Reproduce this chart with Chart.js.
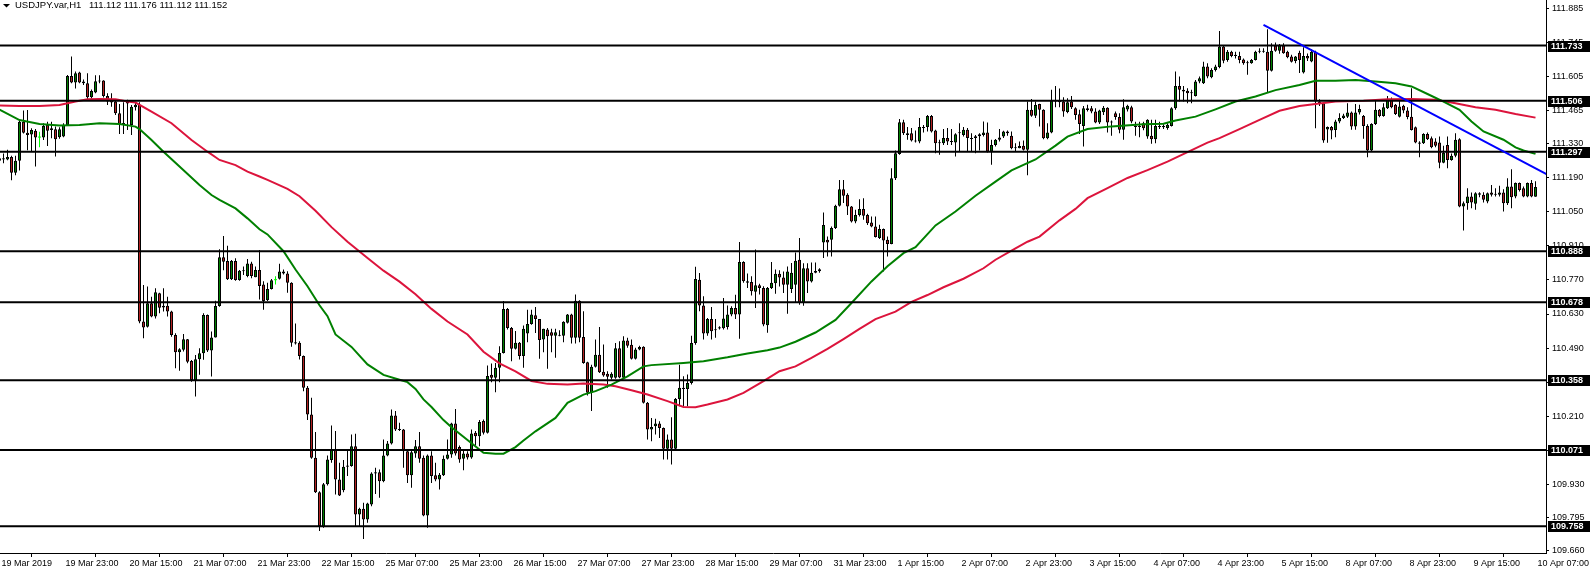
<!DOCTYPE html>
<html><head><meta charset="utf-8">
<script src="https://cdn.jsdelivr.net/npm/chart.js@4.4.1/dist/chart.umd.min.js"></script>
<style>html,body{margin:0;padding:0;background:#fff;overflow:hidden}canvas{display:block}</style>
</head><body>
<canvas id="c" width="1590" height="570"></canvas>
<script>
const symbolName = "USDJPY.var,H1";
const ohlcText = "111.112 111.176 111.112 111.152";
const timeLabels = ["19 Mar 2019","19 Mar 23:00","20 Mar 15:00","21 Mar 07:00","21 Mar 23:00","22 Mar 15:00","25 Mar 07:00","25 Mar 23:00","26 Mar 15:00","27 Mar 07:00","27 Mar 23:00","28 Mar 15:00","29 Mar 07:00","31 Mar 23:00","1 Apr 15:00","2 Apr 07:00","2 Apr 23:00","3 Apr 15:00","4 Apr 07:00","4 Apr 23:00","5 Apr 15:00","8 Apr 07:00","8 Apr 23:00","9 Apr 15:00","10 Apr 07:00"];
const yTicks = [111.885,111.745,111.605,111.465,111.330,111.190,111.050,110.910,110.770,110.630,110.490,110.350,110.210,110.070,109.930,109.795,109.660];
const levels = [111.733,111.506,111.297,110.888,110.678,110.358,110.071,109.758];

const opens = [111.26,111.27,111.265,111.275,111.21,111.26,111.42,111.375,111.368,111.383,
111.355,111.355,111.407,111.386,111.389,111.356,111.359,111.407,111.608,111.581,
111.622,111.585,111.578,111.521,111.54,111.585,111.59,111.526,111.509,111.503,
111.455,111.411,111.503,111.407,111.48,111.49,110.599,110.578,110.674,110.62,
110.715,110.664,110.664,110.64,110.544,110.473,110.483,110.526,110.437,110.359,
110.444,110.469,110.626,110.48,110.534,110.663,110.863,110.848,110.773,110.848,
110.77,110.806,110.786,110.838,110.781,110.811,110.751,110.687,110.733,110.769,
110.775,110.805,110.796,110.758,110.514,110.512,110.457,110.327,110.217,110.039,
109.898,109.756,109.93,110.03,110.073,109.95,109.906,110.002,110.005,110.087,
109.806,109.83,109.786,109.847,109.975,109.98,109.943,110.049,110.098,110.213,
110.158,110.155,110.066,109.967,110.057,110.087,110.039,109.802,110.049,109.967,
109.95,109.967,110.035,110.053,110.18,110.084,110.035,110.057,110.04,110.142,
110.128,110.19,110.142,110.38,110.368,110.409,110.47,110.651,110.573,110.487,
110.512,110.457,110.55,110.589,110.625,110.61,110.525,110.566,110.555,110.541,
110.544,110.541,110.594,110.628,110.532,110.685,110.536,110.432,110.306,110.413,
110.463,110.393,110.385,110.368,110.368,110.489,110.368,110.521,110.504,110.446,
110.484,110.495,110.265,110.155,110.169,110.18,110.162,110.076,110.114,110.076,
110.281,110.327,110.322,110.347,110.511,110.771,110.665,110.55,110.61,110.563,
110.57,110.572,110.577,110.628,110.655,110.628,110.844,110.765,110.762,110.721,
110.748,110.737,110.584,110.737,110.756,110.795,110.78,110.75,110.733,110.75,
110.853,110.675,110.818,110.764,110.80,110.806,110.924,110.935,110.935,110.983,
111.075,111.143,111.12,111.072,111.01,111.037,111.061,111.037,111.006,110.99,
110.942,110.979,110.935,110.918,111.188,111.288,111.418,111.373,111.373,111.343,
111.339,111.398,111.398,111.444,111.384,111.334,111.332,111.353,111.339,111.335,
111.373,111.366,111.387,111.353,111.353,111.36,111.366,111.376,111.298,111.325,
111.346,111.359,111.38,111.362,111.315,111.311,111.321,111.305,111.469,111.445,
111.493,111.469,111.352,111.376,111.503,111.505,111.503,111.46,111.503,111.476,
111.451,111.403,111.468,111.476,111.462,111.417,111.459,111.478,111.417,111.455,
111.44,111.387,111.47,111.48,111.403,111.398,111.414,111.359,111.362,111.348,
111.403,111.403,111.394,111.403,111.476,111.567,111.544,111.547,111.54,111.526,
111.585,111.578,111.647,111.603,111.633,111.645,111.729,111.674,111.708,111.695,
111.69,111.676,111.664,111.66,111.674,111.708,111.712,111.708,111.63,111.733,
111.712,111.733,111.708,111.688,111.67,111.704,111.622,111.69,111.668,111.708,
111.503,111.496,111.388,111.398,111.386,111.421,111.435,111.441,111.458,111.40,
111.458,111.444,111.403,111.302,111.411,111.469,111.444,111.476,111.51,111.49,
111.441,111.486,111.466,111.441,111.397,111.335,111.332,111.37,111.352,111.339,
111.335,111.252,111.325,111.263,111.28,111.348,111.072,111.085,111.113,111.083,
111.12,111.12,111.092,111.129,111.124,111.12,111.129,111.085,111.154,111.113,
111.168,111.147,111.113,111.168,111.112];

const highs = [111.29,111.29,111.305,111.28,111.28,111.43,111.466,111.468,111.393,111.39,
111.379,111.414,111.42,111.42,111.40,111.397,111.414,111.612,111.688,111.626,
111.625,111.594,111.619,111.553,111.611,111.611,111.591,111.537,111.537,111.51,
111.493,111.50,111.51,111.489,111.50,111.50,110.749,110.743,110.701,110.736,
110.717,110.736,110.701,110.643,110.551,110.489,110.548,110.527,110.441,110.462,
110.489,110.633,110.628,110.558,110.685,110.896,110.951,110.91,110.852,110.859,
110.811,110.825,110.856,110.845,110.825,110.893,110.765,110.758,110.774,110.785,
110.837,110.813,110.806,110.761,110.591,110.518,110.46,110.334,110.286,110.145,
109.902,109.936,110.049,110.172,110.149,110.019,110.03,110.073,110.135,110.138,
109.834,109.854,109.854,109.98,109.998,109.991,110.114,110.108,110.238,110.231,
110.183,110.158,110.073,110.073,110.112,110.145,110.049,110.053,110.066,110.019,
109.977,110.049,110.114,110.183,110.24,110.09,110.073,110.066,110.155,110.149,
110.194,110.197,110.418,110.427,110.429,110.498,110.683,110.655,110.577,110.56,
110.515,110.583,110.648,110.648,110.659,110.61,110.569,110.573,110.569,110.569,
110.563,110.60,110.63,110.631,110.71,110.687,110.641,110.434,110.422,110.525,
110.577,110.505,110.395,110.391,110.511,110.518,110.539,110.532,110.525,110.491,
110.50,110.498,110.268,110.203,110.20,110.189,110.164,110.135,110.206,110.285,
110.422,110.374,110.381,110.541,110.824,110.799,110.703,110.614,110.659,110.61,
110.58,110.696,110.665,110.662,110.709,110.926,110.847,110.796,110.785,110.895,
110.754,110.744,110.741,110.844,110.813,110.81,110.805,110.825,110.84,110.883,
110.942,110.839,110.839,110.842,110.842,110.818,111.047,110.948,110.99,111.079,
111.181,111.181,111.126,111.074,111.058,111.102,111.106,111.042,111.031,111.031,
110.997,110.981,110.948,111.229,111.302,111.431,111.428,111.398,111.394,111.384,
111.435,111.407,111.448,111.448,111.387,111.346,111.39,111.394,111.39,111.373,
111.414,111.398,111.394,111.373,111.366,111.373,111.421,111.417,111.346,111.349,
111.39,111.383,111.384,111.38,111.332,111.339,111.343,111.503,111.513,111.503,
111.494,111.471,111.414,111.551,111.567,111.557,111.521,111.517,111.526,111.48,
111.469,111.485,111.49,111.485,111.476,111.469,111.485,111.48,111.425,111.462,
111.455,111.512,111.49,111.486,111.42,111.42,111.42,111.43,111.428,111.428,
111.42,111.41,111.414,111.48,111.626,111.606,111.567,111.558,111.551,111.592,
111.606,111.667,111.66,111.64,111.654,111.793,111.732,111.715,111.712,111.708,
111.708,111.68,111.671,111.678,111.712,111.722,111.722,111.80,111.743,111.746,
111.74,111.743,111.712,111.695,111.69,111.712,111.726,111.70,111.718,111.712,
111.512,111.499,111.40,111.403,111.428,111.455,111.453,111.496,111.462,111.493,
111.49,111.448,111.41,111.414,111.51,111.472,111.496,111.526,111.52,111.493,
111.51,111.49,111.48,111.558,111.40,111.34,111.373,111.376,111.359,111.352,
111.359,111.321,111.359,111.29,111.373,111.352,111.092,111.147,111.129,111.13,
111.13,111.13,111.129,111.16,111.147,111.157,111.143,111.188,111.225,111.17,
111.17,111.154,111.17,111.181,111.176];

const lows = [111.24,111.25,111.262,111.18,111.20,111.22,111.372,111.303,111.297,111.236,
111.315,111.345,111.32,111.352,111.277,111.35,111.356,111.403,111.578,111.557,
111.578,111.571,111.512,111.516,111.537,111.578,111.52,111.489,111.482,111.448,
111.37,111.37,111.386,111.366,111.466,110.592,110.53,110.575,110.617,110.612,
110.633,110.64,110.62,110.537,110.407,110.397,110.476,110.428,110.352,110.291,
110.38,110.442,110.474,110.373,110.533,110.66,110.81,110.77,110.77,110.767,
110.767,110.79,110.781,110.777,110.781,110.69,110.648,110.683,110.731,110.751,
110.772,110.792,110.717,110.495,110.505,110.443,110.313,110.194,110.035,109.895,
109.738,109.752,109.925,110.019,109.888,109.882,109.898,109.964,110.002,109.758,
109.758,109.706,109.772,109.84,109.89,109.875,109.939,110.046,110.094,110.149,
110.149,109.998,109.936,109.916,110.039,110.019,109.799,109.752,109.936,109.943,
109.909,109.964,110.032,110.039,110.049,110.019,109.988,110.032,110.035,110.09,
110.087,110.135,110.139,110.35,110.309,110.35,110.468,110.566,110.436,110.484,
110.443,110.409,110.514,110.586,110.552,110.446,110.473,110.405,110.473,110.45,
110.539,110.514,110.591,110.509,110.509,110.514,110.426,110.295,110.231,110.41,
110.388,110.372,110.327,110.361,110.364,110.366,110.364,110.491,110.443,110.443,
110.481,110.262,110.114,110.107,110.135,110.121,110.032,110.032,110.012,110.073,
110.251,110.251,110.251,110.34,110.504,110.641,110.525,110.541,110.525,110.532,
110.566,110.566,110.566,110.621,110.61,110.528,110.758,110.737,110.706,110.655,
110.71,110.58,110.553,110.733,110.713,110.743,110.716,110.631,110.716,110.675,
110.668,110.664,110.716,110.76,110.798,110.80,110.86,110.866,110.866,110.979,
111.072,111.086,111.037,111.006,111.003,111.031,111.017,110.996,110.987,110.944,
110.938,110.805,110.866,110.917,111.181,111.284,111.366,111.346,111.339,111.335,
111.332,111.376,111.38,111.376,111.291,111.284,111.325,111.325,111.325,111.277,
111.298,111.359,111.298,111.298,111.291,111.302,111.359,111.294,111.243,111.318,
111.339,111.353,111.362,111.307,111.298,111.311,111.302,111.20,111.441,111.435,
111.40,111.348,111.348,111.373,111.48,111.48,111.441,111.455,111.472,111.428,
111.37,111.318,111.462,111.455,111.414,111.411,111.448,111.376,111.363,111.428,
111.373,111.346,111.462,111.414,111.362,111.356,111.385,111.35,111.33,111.332,
111.39,111.39,111.387,111.40,111.469,111.503,111.503,111.496,111.496,111.524,
111.578,111.575,111.599,111.599,111.626,111.64,111.66,111.667,111.685,111.68,
111.66,111.654,111.613,111.658,111.672,111.702,111.704,111.54,111.626,111.708,
111.699,111.699,111.681,111.663,111.66,111.62,111.618,111.67,111.665,111.393,
111.485,111.334,111.334,111.348,111.356,111.414,111.431,111.435,111.387,111.387,
111.45,111.35,111.274,111.298,111.407,111.439,111.441,111.472,111.476,111.448,
111.438,111.455,111.43,111.384,111.332,111.274,111.329,111.345,111.311,111.315,
111.229,111.25,111.229,111.26,111.274,111.069,110.973,111.058,111.065,111.058,
111.11,111.088,111.085,111.113,111.113,111.113,111.051,111.078,111.065,111.106,
111.133,111.11,111.11,111.11,111.112];

const closes = [111.27,111.265,111.275,111.21,111.26,111.42,111.375,111.366,111.386,111.355,
111.355,111.403,111.383,111.393,111.348,111.389,111.407,111.608,111.581,111.619,
111.581,111.578,111.521,111.546,111.586,111.589,111.526,111.503,111.499,111.455,
111.411,111.415,111.495,111.482,111.49,110.599,110.575,110.674,110.62,110.719,
110.656,110.657,110.64,110.544,110.473,110.485,110.526,110.434,110.359,110.444,
110.469,110.626,110.48,110.534,110.663,110.863,110.845,110.773,110.848,110.77,
110.808,110.81,110.838,110.786,110.811,110.745,110.683,110.733,110.769,110.769,
110.805,110.796,110.758,110.512,110.509,110.457,110.327,110.217,110.039,109.898,
109.758,109.93,110.032,110.073,109.95,109.884,110.002,110.008,110.087,109.806,
109.83,109.786,109.851,109.975,109.98,109.943,110.049,110.098,110.213,110.155,
110.153,110.066,109.967,110.062,110.087,110.035,109.802,110.049,109.964,109.95,
109.97,110.035,110.053,110.18,110.057,110.032,110.057,110.04,110.139,110.128,
110.186,110.142,110.375,110.368,110.409,110.47,110.651,110.573,110.487,110.512,
110.457,110.569,110.589,110.628,110.61,110.523,110.569,110.539,110.541,110.555,
110.541,110.598,110.628,110.532,110.685,110.532,110.429,110.306,110.413,110.463,
110.391,110.377,110.372,110.385,110.489,110.369,110.521,110.50,110.446,110.484,
110.494,110.265,110.155,110.166,110.18,110.162,110.076,110.114,110.076,110.281,
110.327,110.322,110.347,110.511,110.774,110.665,110.55,110.61,110.559,110.565,
110.576,110.612,110.628,110.655,110.628,110.844,110.765,110.758,110.724,110.748,
110.737,110.587,110.737,110.758,110.795,110.78,110.75,110.805,110.80,110.849,
110.675,110.818,110.764,110.80,110.807,110.814,110.996,110.924,110.983,111.075,
111.143,111.116,111.072,111.01,111.037,111.061,111.034,111.003,110.99,110.946,
110.979,110.932,110.918,111.188,111.291,111.418,111.373,111.366,111.343,111.339,
111.398,111.394,111.444,111.38,111.332,111.332,111.353,111.339,111.337,111.369,
111.376,111.387,111.353,111.349,111.36,111.369,111.376,111.298,111.325,111.346,
111.355,111.38,111.373,111.311,111.311,111.32,111.305,111.469,111.445,111.489,
111.469,111.352,111.376,111.506,111.505,111.50,111.462,111.50,111.48,111.448,
111.411,111.476,111.476,111.462,111.417,111.466,111.478,111.417,111.42,111.44,
111.387,111.48,111.486,111.421,111.398,111.40,111.393,111.428,111.348,111.403,
111.398,111.397,111.408,111.476,111.567,111.551,111.551,111.537,111.537,111.585,
111.599,111.647,111.606,111.633,111.647,111.729,111.671,111.708,111.69,111.69,
111.674,111.66,111.66,111.674,111.708,111.712,111.708,111.63,111.712,111.712,
111.733,111.702,111.685,111.667,111.688,111.674,111.69,111.68,111.708,111.503,
111.496,111.343,111.398,111.384,111.421,111.435,111.446,111.458,111.40,111.458,
111.472,111.403,111.302,111.411,111.469,111.444,111.48,111.51,111.48,111.452,
111.483,111.466,111.44,111.386,111.335,111.33,111.37,111.348,111.315,111.321,
111.252,111.293,111.263,111.28,111.346,111.072,111.085,111.113,111.088,111.126,
111.126,111.10,111.126,111.12,111.12,111.129,111.085,111.154,111.11,111.168,
111.14,111.113,111.168,111.113,111.152];

const maGreenIdx = [0,5,10,15,20,25,30,34,35,38,41,45,50,53,55,59,62,65,67,71,74,77,80,82,84,88,92,96,100,102,104,106,108,111,113,117,121,124,126,129,131,134,139,142,146,149,153,157,161,163,171,176,182,187,192,195,199,204,209,213,218,222,226,229,234,239,244,249,253,259,264,267,272,278,286,291,294,299,304,309,314,319,325,329,334,339,344,349,353,357,361,365,368,371,376,379,381,384];
const maGreenVal = [111.47,111.427,111.411,111.405,111.407,111.414,111.411,111.40,111.39,111.345,111.297,111.236,111.16,111.119,111.099,111.064,111.023,110.978,110.957,110.888,110.813,110.744,110.666,110.621,110.546,110.495,110.423,110.38,110.36,110.35,110.322,110.279,110.248,110.194,110.165,110.112,110.06,110.056,110.056,110.083,110.11,110.148,110.203,110.265,110.299,110.313,110.34,110.374,110.415,110.42,110.429,110.436,110.452,110.468,110.481,110.492,110.516,110.554,110.606,110.675,110.764,110.826,110.88,110.905,110.994,111.051,111.116,111.174,111.22,111.265,111.322,111.359,111.39,111.401,111.41,111.412,111.425,111.441,111.471,111.503,111.524,111.55,111.571,111.588,111.588,111.592,111.585,111.578,111.565,111.534,111.503,111.469,111.421,111.38,111.346,111.315,111.302,111.288];
const maRedIdx = [0,5,10,15,19,22,25,29,32,34,38,43,48,52,55,59,62,65,67,72,75,79,83,87,92,96,100,104,108,112,117,121,125,129,133,137,142,146,151,154,158,162,167,171,174,177,182,186,191,195,199,203,207,211,215,219,224,228,232,236,241,246,249,254,257,260,265,269,272,277,282,287,292,297,302,305,310,315,320,325,331,334,341,347,353,359,364,369,374,379,384];
const maRedVal = [111.487,111.485,111.485,111.489,111.503,111.512,111.514,111.512,111.503,111.499,111.462,111.414,111.345,111.297,111.263,111.242,111.215,111.195,111.181,111.144,111.114,111.054,110.987,110.927,110.86,110.808,110.763,110.711,110.651,110.599,110.546,110.475,110.427,110.394,110.355,110.343,110.34,110.344,110.34,110.333,110.317,110.299,110.272,110.248,110.247,110.258,110.279,110.306,110.354,110.395,110.415,110.45,110.487,110.527,110.569,110.609,110.64,110.68,110.708,110.74,110.775,110.818,110.853,110.9,110.927,110.948,111.015,111.062,111.106,111.147,111.189,111.221,111.256,111.295,111.334,111.353,111.39,111.428,111.465,111.485,111.497,111.503,111.506,111.512,111.514,111.51,111.496,111.48,111.469,111.452,111.437];
const trendIdx = [316, 390];
const trendVal = [111.818, 111.177];

const BULL = '#008000', BEAR = '#b22222', DOJI = '#00ff00';
const FONT = '"Liberation Sans", Arial, sans-serif';
const idx = opens.map((_, i) => i);
const isDoji = i => opens[i] === closes[i];

const datasets = [];
datasets.push({ type:'bar', data: idx.map(i => ({x:i, y:[lows[i], highs[i]]})),
  backgroundColor: idx.map(i => isDoji(i) ? DOJI : '#000'), borderWidth:0, barThickness:1,
  grouped:false, inflateAmount:0, order:10 });
datasets.push({ type:'bar', data: idx.map(i => ({x:i, y:[opens[i], closes[i]]})),
  backgroundColor: idx.map(i => isDoji(i) ? DOJI : (closes[i] > opens[i] ? BULL : BEAR)),
  borderColor:'#000', borderWidth: c => isDoji(c.dataIndex) ? 0 : 1, borderSkipped:false,
  barThickness:3, minBarLength:1, grouped:false, inflateAmount:0, order:9 });
datasets.push({ type:'line', data: maRedIdx.map((x,k)=>({x, y:maRedVal[k]})), borderColor:'#dc143c',
  borderWidth:2, pointRadius:0, tension:0, fill:false, order:6 });
datasets.push({ type:'line', data: maGreenIdx.map((x,k)=>({x, y:maGreenVal[k]})), borderColor:'#008000',
  borderWidth:2, pointRadius:0, tension:0, fill:false, order:5 });
levels.forEach(v => datasets.push({ type:'line', data:[{x:-5,y:v},{x:400,y:v}], borderColor:'#000',
  borderWidth:2, pointRadius:0, fill:false, order:3 }));
datasets.push({ type:'line', data: trendIdx.map((x,k)=>({x, y:trendVal[k]})), borderColor:'#0000ff',
  borderWidth:2, pointRadius:0, fill:false, order:2 });

const overlay = {
  id:'overlay',
  afterDraw(chart) {
    const {ctx, chartArea, scales:{y}} = chart;
    ctx.save();
    ctx.font = 'bold 9px ' + FONT;
    ctx.textBaseline = 'middle';
    levels.forEach(v => {
      const py = Math.round(y.getPixelForValue(v));
      ctx.fillStyle = '#000';
      ctx.fillRect(chartArea.right + 2, py - 5, 50, 11);
      ctx.fillStyle = '#fff';
      ctx.fillText(v.toFixed(3), chartArea.right + 5, py + 0.5);
    });
    ctx.fillStyle = '#000';
    ctx.beginPath(); ctx.moveTo(3,4); ctx.lineTo(10,4); ctx.lineTo(6.5,7.5); ctx.closePath(); ctx.fill();
    ctx.font = '9.5px ' + FONT;
    ctx.textBaseline = 'top';
    ctx.fillText(symbolName, 15, 1);
    ctx.fillText(ohlcText, 89, 1);
    ctx.restore();
  }
};

new Chart(document.getElementById('c'), {
  type:'bar',
  data:{ datasets },
  options:{
    responsive:false, animation:false, devicePixelRatio:1, events:[],
    layout:{ padding:0 },
    plugins:{ legend:{display:false}, tooltip:{enabled:false}, title:{display:false} },
    scales:{
      x:{ type:'linear', min:0.125, max:386.625, offset:false, position:'bottom',
        grid:{ display:true, drawOnChartArea:false, drawTicks:true, tickLength:4, color:'#000' },
        border:{ display:true, color:'#000', width:1 },
        ticks:{ autoSkip:false, maxRotation:0, minRotation:0, align:'start', labelOffset:2, padding:1,
          color:'#000', font:{ family:FONT, size:9 }, callback: v => timeLabels[Math.round(v/16)] ?? '' },
        afterBuildTicks: s => { s.ticks = timeLabels.map((_, k) => ({ value:k*16 })); },
        afterFit: s => { s.height = 17; s.paddingLeft = 0; s.paddingRight = 0; } },
      y:{ type:'linear', position:'right', min:109.648, max:111.9203,
        grid:{ display:true, drawOnChartArea:false, drawTicks:true, tickLength:3, color:'#000' },
        border:{ display:true, color:'#000', width:1 },
        ticks:{ autoSkip:false, padding:3, color:'#000', font:{ family:FONT, size:9 }, callback: v => v.toFixed(3) },
        afterBuildTicks: s => { s.ticks = yTicks.map(v => ({ value:v })); },
        afterFit: s => { s.width = 44; s.paddingTop = 0; s.paddingBottom = 0; } }
    }
  },
  plugins:[overlay]
});
</script>
</body></html>
